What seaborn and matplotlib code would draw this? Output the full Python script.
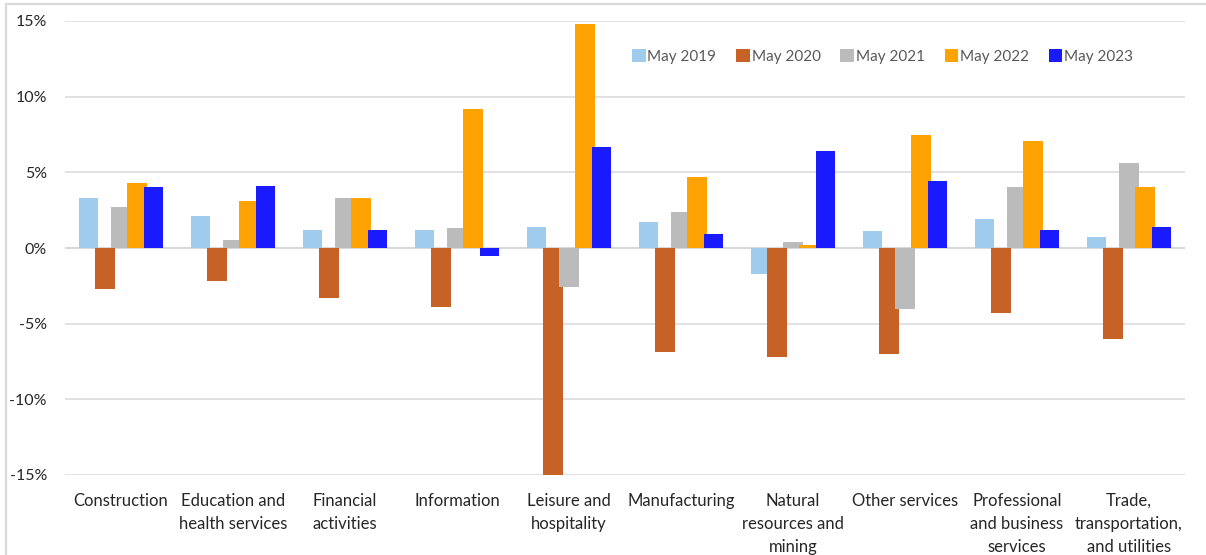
import matplotlib
matplotlib.use("Agg")
import matplotlib.pyplot as plt
import matplotlib.lines as mlines
import matplotlib.patches as mpatches
import pandas as pd
import seaborn as sns

sectors = [
    "Construction",
    "Education and\nhealth services",
    "Financial\nactivities",
    "Information",
    "Leisure and\nhospitality",
    "Manufacturing",
    "Natural\nresources and\nmining",
    "Other services",
    "Professional\nand business\nservices",
    "Trade,\ntransportation,\nand utilities",
]
years = ["May 2019", "May 2020", "May 2021", "May 2022", "May 2023"]

may_2019 = [3.3, 2.1, 1.2, 1.2, 1.4, 1.7, -1.7, 1.1, 1.9, 0.7]
may_2020 = [-2.7, -2.2, -3.3, -3.9, -15.0, -6.9, -7.2, -7.0, -4.3, -6.0]
may_2021 = [2.7, 0.5, 3.3, 1.3, -2.6, 2.4, 0.4, -4.0, 4.0, 5.6]
may_2022 = [4.3, 3.1, 3.3, 9.2, 14.8, 4.7, 0.2, 7.5, 7.1, 4.0]
may_2023 = [4.0, 4.1, 1.2, -0.5, 6.7, 0.9, 6.4, 4.4, 1.2, 1.4]

colors = ["#9FCBEC", "#C66226", "#BBBBBB", "#FFA304", "#1A1AFF"]

series = [may_2019, may_2020, may_2021, may_2022, may_2023]
df = pd.DataFrame(
    [(s, y, v) for y, vals in zip(years, series) for s, v in zip(sectors, vals)],
    columns=["sector", "year", "change"],
)

sns.set_theme(style="white")
plt.rcParams["font.family"] = ["Lato", "DejaVu Sans"]

fig = plt.figure(figsize=(12.06, 5.55), dpi=100)
ax = fig.add_axes([65 / 1206, 80 / 555, 1120 / 1206, 454 / 555])

sns.barplot(
    data=df, x="sector", y="change", hue="year", order=sectors,
    hue_order=years, palette=colors, width=0.8, saturation=1,
    errorbar=None, legend=False, ax=ax,
)

# Excel-style clustered bars: slightly overlapping, later series on top
bar_w = 0.17
step = 0.143
for k, cont in enumerate(ax.containers):
    for i, patch in enumerate(cont.patches):
        center = i + (k - 2) * step
        patch.set_x(center - bar_w / 2)
        patch.set_width(bar_w)
        patch.set_edgecolor("none")
        patch.set_zorder(2 + k)

ax.set_xlim(-0.5, len(sectors) - 0.5)
ax.set_ylim(-15, 15)
ax.set_yticks([-15, -10, -5, 0, 5, 10, 15])
ax.set_yticklabels(["-15%", "-10%", "-5%", "0%", "5%", "10%", "15%"])
ax.yaxis.grid(True, color="#D9D9D9", linewidth=1.1)
ax.set_axisbelow(True)
ax.axhline(0, color="#D9D9D9", linewidth=1.6, zorder=1)
for sp in ax.spines.values():
    sp.set_visible(False)
ax.set_xlabel("")
ax.set_ylabel("")
ax.tick_params(axis="y", length=0, pad=13, labelsize=11.5, labelcolor="#262626")
ax.tick_params(axis="x", length=0, pad=13, labelsize=12, labelcolor="#262626")
for lbl in ax.get_xticklabels():
    lbl.set_linespacing(1.55)
    lbl.set_verticalalignment("top")

handles = [mpatches.Patch(facecolor=c, edgecolor="none", label=y)
           for c, y in zip(colors, years)]
leg = ax.legend(
    handles=handles, loc="center", bbox_to_anchor=(0.73, 0.922), ncol=5,
    frameon=False, fontsize=11, handlelength=0.9, handleheight=0.9,
    handletextpad=0.1, columnspacing=1.3, labelcolor="#595959",
)

# chart-area border
fig.add_artist(mlines.Line2D([6 / 1206, 6 / 1206], [0, 1 - 4 / 555],
                             transform=fig.transFigure, color="#D9D9D9", lw=1.6))
fig.add_artist(mlines.Line2D([6 / 1206, 1], [1 - 4 / 555, 1 - 4 / 555],
                             transform=fig.transFigure, color="#D9D9D9", lw=1.6))

fig.savefig("out.png", dpi=100)
